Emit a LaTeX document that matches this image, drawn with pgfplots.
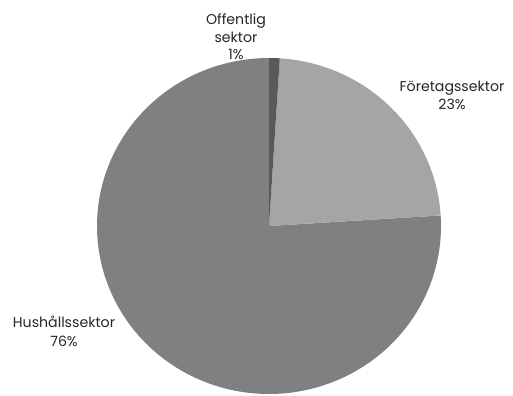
\documentclass[border=0pt]{standalone}
\usepackage{pgfplots}
\pgfplotsset{compat=1.18}
\usepackage{fontspec}
\setmainfont{Poppins}
\definecolor{off}{HTML}{595959}
\definecolor{for}{HTML}{A5A5A5}
\definecolor{hus}{HTML}{808080}
\definecolor{txt}{HTML}{262626}
% shares in percent
\def\pOff{1}
\def\pFor{23}
\def\pHus{76}
\pgfmathsetmacro{\aA}{90}
\pgfmathsetmacro{\aB}{90-3.6*\pOff}
\pgfmathsetmacro{\aC}{\aB-3.6*\pFor}
\pgfmathsetmacro{\aD}{\aC-3.6*\pHus}
\begin{document}
\begin{tikzpicture}
\path[use as bounding box] (0,0) rectangle (513bp,396bp);
\begin{axis}[at={(269bp,170bp)}, anchor=center, x=172bp, y=168bp,
  xmin=-1, xmax=1, ymin=-1, ymax=1, hide axis, clip=false, scale only axis]
\addplot[draw=none, fill=hus, domain=\aD:\aC, samples=300] ({cos(x)},{sin(x)}) -- (axis cs:0,0) -- cycle;
\addplot[draw=none, fill=for, domain=\aC:\aB, samples=100] ({cos(x)},{sin(x)}) -- (axis cs:0,0) -- cycle;
\addplot[draw=none, fill=off, domain=\aB:\aA, samples=10] ({cos(x)},{sin(x)}) -- (axis cs:0,0) -- cycle;
\end{axis}
\begin{scope}[every node/.style={anchor=base, text=txt, font=\fontsize{14.2}{16}\selectfont, inner sep=0pt}]
\node at (236bp,371bp) {Offentlig};
\node at (236bp,353bp) {sektor};
\node at (236bp,336bp) {1\%};
\node at (452bp,304bp) {Företagssektor};
\node at (452bp,286bp) {23\%};
\node at (64bp,68bp) {Hushållssektor};
\node at (64bp,49bp) {76\%};
\end{scope}
\end{tikzpicture}
\end{document}
